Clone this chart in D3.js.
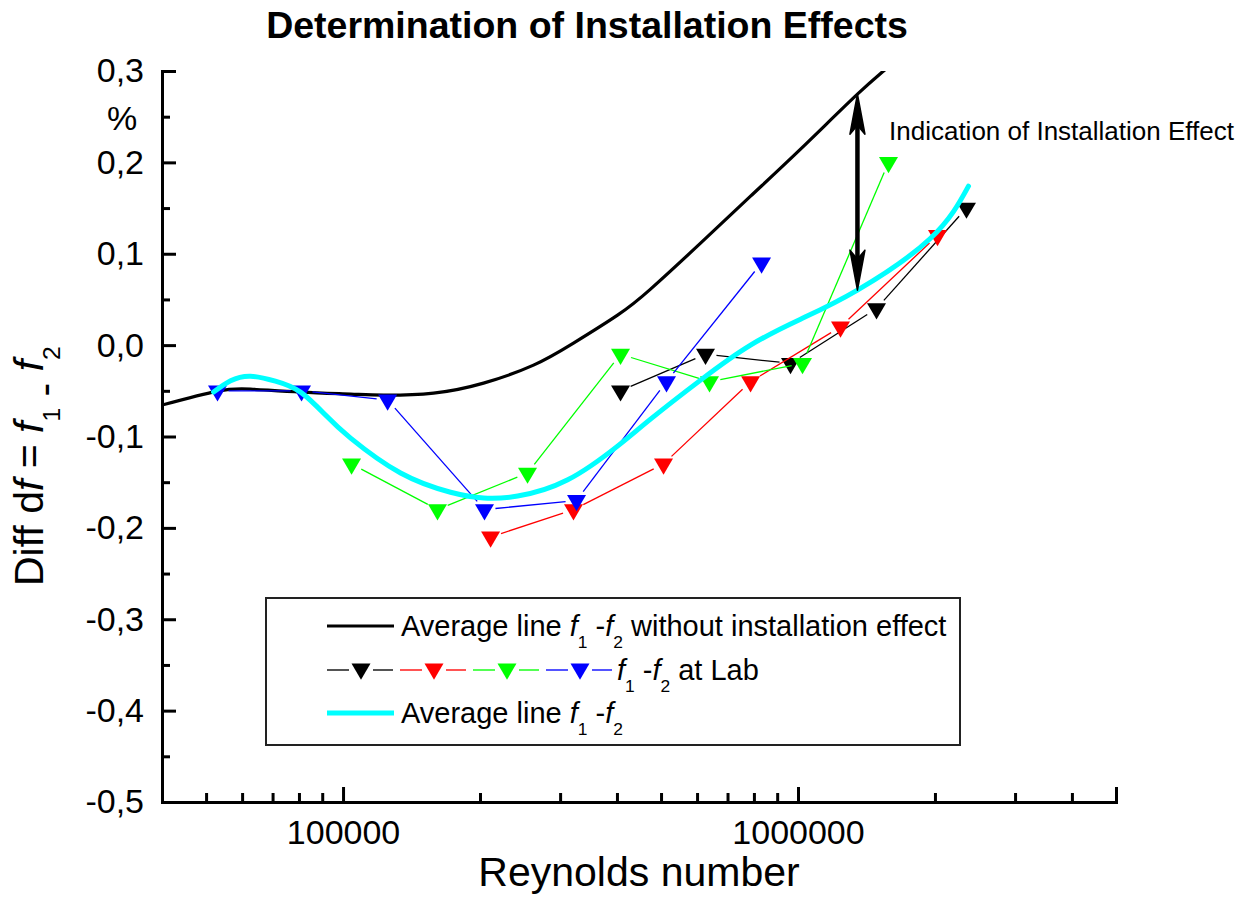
<!DOCTYPE html>
<html><head><meta charset="utf-8">
<script src="https://cdn.jsdelivr.net/npm/d3@7"></script>
<style>
body{margin:0;background:#fff}
text{font-family:"Liberation Sans",Arial,Helvetica,sans-serif;fill:#000}
</style>
</head><body>
<svg id="c" width="1248" height="920"></svg>
<script>
// ---------------- data ----------------
const xMajorTicks = [1e5, 1e6];
const xTickLabels = ["100000", "1000000"];
const xMinorTicks = [5e4, 6e4, 7e4, 8e4, 9e4, 2e5, 3e5, 4e5, 5e5, 6e5, 7e5, 8e5, 9e5, 2e6, 3e6, 4e6, 5e6];
const yMajorTicks = [-0.5, -0.4, -0.3, -0.2, -0.1, 0, 0.1, 0.2, 0.3];
const yTickLabels = ["-0,5", "-0,4", "-0,3", "-0,2", "-0,1", "0,0", "0,1", "0,2", "0,3"];
const yMinorTicks = [-0.45, -0.35, -0.25, -0.15, -0.05, 0.05, 0.15, 0.25];

// Average line f1-f2 without installation effect (black)
const reNoInstall = [40000, 52970, 62620, 80640, 103900, 122700, 158100, 203600, 262200, 321000, 401200, 474100, 610700, 786500, 1013000, 1351000, 1549000, 1650000];
const dfNoInstall = [-0.0656, -0.0503, -0.0481, -0.0514, -0.0536, -0.0547, -0.0525, -0.0416, -0.0219, 0.0022, 0.0328, 0.0613, 0.1116, 0.163, 0.2145, 0.2746, 0.3009, 0.314];

// Average line f1-f2 (cyan)
const reAvg = [51930, 56600, 62620, 71000, 80640, 91500, 103900, 133800, 172300, 203600, 242000, 311000, 401200, 474100, 610700, 786500, 1013000, 1351000, 1956000, 2370000];
const dfAvg = [-0.0514, -0.039, -0.034, -0.0394, -0.0514, -0.0766, -0.1018, -0.14, -0.161, -0.1673, -0.1652, -0.1477, -0.1105, -0.081, -0.0383, 0.0, 0.0284, 0.0602, 0.117, 0.174];

// f1-f2 at Lab, four runs
const labBlackRe = [407300, 626200, 962700, 1488000, 2346000];
const labBlackDf = [-0.05, -0.01, -0.02, 0.04, 0.15];
const labRedRe = [211000, 321000, 506300, 786500, 1240000, 2026000];
const labRedDf = [-0.21, -0.18, -0.13, -0.04, 0.02, 0.12];
const labGreenRe = [104400, 161300, 254400, 407300, 639000, 1023000, 1581000];
const labGreenDf = [-0.13, -0.18, -0.14, -0.01, -0.04, -0.02, 0.20];
const labBlueRe = [52970, 81050, 125300, 204600, 326000, 514000, 831600];
const labBlueDf = [-0.05, -0.05, -0.06, -0.18, -0.17, -0.04, 0.09];
const labColors = ["#000000", "#ff0000", "#00ff00", "#0000ff"];

// annotation arrow
const arrowRe = 1351000;
const arrowTop = 0.2746;
const arrowBottom = 0.0602;
const annotationText = "Indication of Installation Effect";

// ---------------- chart ----------------
const svg = d3.select("#c");
svg.append("rect").attr("width", 1248).attr("height", 920).attr("fill", "#fff");

const L = 162, R = 1116, T = 71, B = 802;
const x = d3.scaleLog().domain([40000, 5000000]).range([L, R]);
const y = d3.scaleLinear().domain([-0.5, 0.3]).range([B, T]);

svg.append("defs").append("clipPath").attr("id", "plot")
  .append("rect").attr("x", L).attr("y", T).attr("width", R - L).attr("height", B - T);

const font = '"Liberation Sans",Arial,Helvetica,sans-serif';

// axes
function styleAxis(g) {
  g.select(".domain").attr("stroke", "#000").attr("stroke-width", 3);
  g.selectAll(".tick line").attr("stroke", "#000").attr("stroke-width", 3);
  g.selectAll(".tick text").attr("font-family", font).attr("font-size", 34).attr("fill", "#000");
}
const yAxisMinor = d3.axisLeft(y).tickValues(yMinorTicks).tickSize(-8).tickFormat("");
svg.append("g").attr("transform", `translate(${L},0)`).call(yAxisMinor).call(styleAxis);
const yAxis = d3.axisLeft(y).tickValues(yMajorTicks).tickSize(-14).tickPadding(18)
  .tickFormat((d, i) => yTickLabels[i]);
svg.append("g").attr("transform", `translate(${L},0)`).call(yAxis).call(styleAxis);

const xAxisMinor = d3.axisBottom(x).tickValues(xMinorTicks).tickSize(-9).tickFormat("");
svg.append("g").attr("transform", `translate(0,${B})`).call(xAxisMinor).call(styleAxis);
const xAxis = d3.axisBottom(x).tickValues(xMajorTicks).tickSize(-15).tickPadding(18)
  .tickFormat((d, i) => xTickLabels[i]);
svg.append("g").attr("transform", `translate(0,${B})`).call(xAxis).call(styleAxis);

// rich text helper (italic + subscripts / lowered text)
function rich(sel, parts, fs) {
  const shift = fs * 0.42;
  let cur = 0;
  parts.forEach(p => {
    const t = sel.append("tspan").text(p.t);
    if (p.i) t.attr("font-style", "italic");
    if (p.sub || p.low) {
      if (p.sub) t.attr("font-size", fs * 0.6);
      const s = p.low ? fs * 0.36 : shift;
      if (s !== cur) t.attr("dy", s - cur);
      cur = s;
    } else if (cur !== 0) {
      t.attr("dy", -cur); cur = 0;
    }
  });
}

// title
svg.append("text").attr("x", 587).attr("y", 38).attr("text-anchor", "middle")
  .attr("font-size", 37.5).attr("font-weight", "bold").text("Determination of Installation Effects");

// axis titles
svg.append("text").attr("x", 639).attr("y", 886).attr("text-anchor", "middle")
  .attr("font-size", 41).text("Reynolds number");

const yt = svg.append("text").attr("transform", "translate(43,586) rotate(-90)")
  .attr("font-size", 41);
rich(yt, [{t: "Diff d"}, {t: "f", i: true}, {t: " = "}, {t: "f", i: true}, {t: "1", sub: true}, {t: " -", low: true}, {t: " "}, {t: "f", i: true}, {t: "2", sub: true}], 41);

svg.append("text").attr("x", 122).attr("y", 130).attr("text-anchor", "middle")
  .attr("font-size", 34).text("%");

const plot = svg.append("g").attr("clip-path", "url(#plot)");
const line = d3.line().x(d => x(d[0])).y(d => y(d[1])).curve(d3.curveNatural);

// black average line
plot.append("path").datum(reNoInstall.map((r, i) => [r, dfNoInstall[i]]))
  .attr("d", line).attr("fill", "none").attr("stroke", "#000").attr("stroke-width", 3.2);

// lab series
const tri = "M-9.5,-5.4L9.5,-5.4L0,10.8Z";
function gapSegments(pts, g) {
  const segs = [];
  for (let i = 0; i < pts.length - 1; i++) {
    const [x1, y1] = pts[i], [x2, y2] = pts[i + 1];
    const dx = x2 - x1, dy = y2 - y1, len = Math.hypot(dx, dy);
    if (len <= 2 * g) continue;
    const ux = dx / len, uy = dy / len;
    segs.push([x1 + ux * g, y1 + uy * g, x2 - ux * g, y2 - uy * g]);
  }
  return segs;
}
const labSeries = [
  [labBlackRe, labBlackDf], [labRedRe, labRedDf], [labGreenRe, labGreenDf], [labBlueRe, labBlueDf]
];
labSeries.forEach(([res, dfs], k) => {
  const pts = res.map((r, i) => [x(r), y(dfs[i])]);
  const g = svg.append("g");
  g.selectAll("line").data(gapSegments(pts, 11)).join("line")
    .attr("x1", d => d[0]).attr("y1", d => d[1]).attr("x2", d => d[2]).attr("y2", d => d[3])
    .attr("stroke", labColors[k]).attr("stroke-width", 1.3);
  g.selectAll("path").data(pts).join("path")
    .attr("d", tri).attr("transform", d => `translate(${d[0]},${d[1]})`).attr("fill", labColors[k]);
});

// cyan average
svg.append("path").datum(reAvg.map((r, i) => [r, dfAvg[i]]))
  .attr("d", line).attr("fill", "none").attr("stroke", "#00ffff").attr("stroke-width", 5)
  .attr("stroke-linecap", "round");

// annotation arrow
const ax = x(arrowRe), ay1 = y(arrowTop), ay2 = y(arrowBottom);
const arrowG = svg.append("g");
arrowG.append("line").attr("x1", ax).attr("x2", ax).attr("y1", ay1 + 20).attr("y2", ay2 - 20)
  .attr("stroke", "#000").attr("stroke-width", 4.5);
arrowG.append("path").attr("d", `M${ax},${ay1} L${ax + 7.5},${ay1 + 40} L${ax},${ay1 + 31} L${ax - 7.5},${ay1 + 40} Z`)
  .attr("fill", "#000").attr("stroke", "#000").attr("stroke-width", 1.5).attr("stroke-linejoin", "round");
arrowG.append("path").attr("d", `M${ax},${ay2} L${ax + 7.5},${ay2 - 40} L${ax},${ay2 - 31} L${ax - 7.5},${ay2 - 40} Z`)
  .attr("fill", "#000").attr("stroke", "#000").attr("stroke-width", 1.5).attr("stroke-linejoin", "round");
svg.append("text").attr("x", 889).attr("y", 140).attr("font-size", 26).text(annotationText);

// legend
const lg = svg.append("g");
lg.append("rect").attr("x", 266).attr("y", 598).attr("width", 694).attr("height", 147)
  .attr("fill", "#fff").attr("stroke", "#222").attr("stroke-width", 2);
const rowY = [626, 670, 713];
lg.append("line").attr("x1", 327).attr("x2", 394).attr("y1", rowY[0]).attr("y2", rowY[0])
  .attr("stroke", "#000").attr("stroke-width", 3);
rich(lg.append("text").attr("x", 401).attr("y", rowY[0] + 10).attr("font-size", 29),
  [{t: "Average line "}, {t: "f", i: true}, {t: "1", sub: true}, {t: " -"}, {t: "f", i: true}, {t: "2", sub: true}, {t: " without installation effect"}], 29);

labColors.forEach((c, k) => {
  const x0 = 327 + k * 73, cx = x0 + 34;
  lg.append("line").attr("x1", x0).attr("x2", cx - 12).attr("y1", rowY[1]).attr("y2", rowY[1])
    .attr("stroke", c).attr("stroke-width", 1.8).attr("stroke-opacity", 0.75);
  lg.append("line").attr("x1", cx + 12).attr("x2", x0 + 66).attr("y1", rowY[1]).attr("y2", rowY[1])
    .attr("stroke", c).attr("stroke-width", 1.8).attr("stroke-opacity", 0.75);
  lg.append("path").attr("d", tri).attr("transform", `translate(${cx},${rowY[1] - 1})`).attr("fill", c);
});
rich(lg.append("text").attr("x", 617).attr("y", rowY[1] + 10).attr("font-size", 29),
  [{t: "f", i: true}, {t: "1", sub: true}, {t: " -"}, {t: "f", i: true}, {t: "2", sub: true}, {t: " at Lab"}], 29);

lg.append("line").attr("x1", 327).attr("x2", 394).attr("y1", rowY[2]).attr("y2", rowY[2])
  .attr("stroke", "#00ffff").attr("stroke-width", 5);
rich(lg.append("text").attr("x", 401).attr("y", rowY[2] + 10).attr("font-size", 29),
  [{t: "Average line "}, {t: "f", i: true}, {t: "1", sub: true}, {t: " -"}, {t: "f", i: true}, {t: "2", sub: true}], 29);
</script>
</body></html>
